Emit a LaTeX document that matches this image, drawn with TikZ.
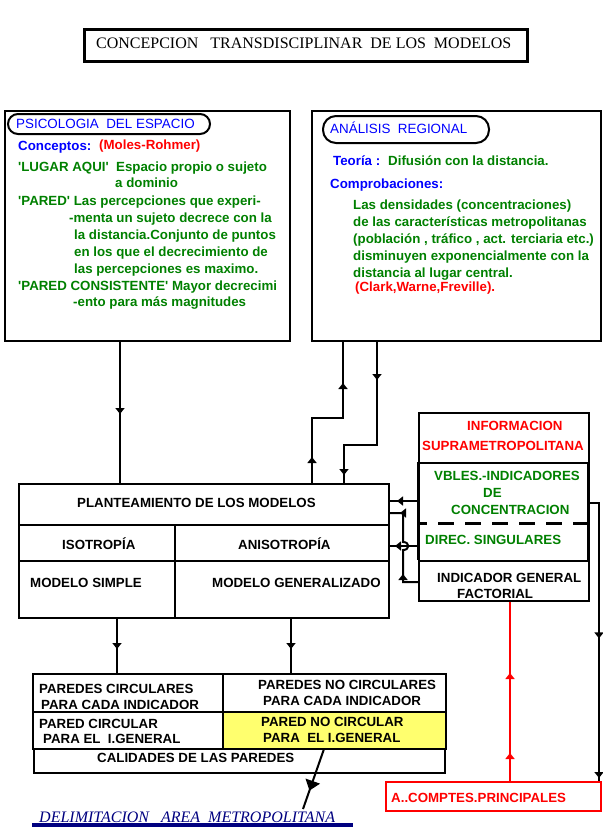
\documentclass[tikz,border=0pt]{standalone}
\usepackage{fontspec}
\setmainfont{Liberation Serif}
\setsansfont{Liberation Sans}
\usetikzlibrary{arrows.meta,decorations.markings}
\definecolor{tgreen}{RGB}{0,128,0}
\definecolor{tblue}{RGB}{0,0,255}
\definecolor{tred}{RGB}{255,0,0}
\definecolor{tnavy}{RGB}{0,0,128}
\definecolor{tyellow}{RGB}{255,255,110}
\newcommand\bodyfont{\fontsize{13.3}{15}\selectfont\sffamily\bfseries}
\newcommand\hdrfont{\fontsize{13.4}{15}\selectfont\sffamily}
\newcommand\q{\textquotesingle}
\tikzset{
  box/.style={draw, line width=2pt, anchor=north west, inner sep=0pt},
  txt/.style={anchor=base west, inner sep=0pt, font=\bodyfont},
  conn/.style={line width=2pt},
  marr/.style={postaction={decorate, decoration={markings, mark=at position #1 with {\arrow{Triangle[width=9pt,length=6pt]}}}}},
  bigarr/.style={postaction={decorate, decoration={markings, mark=at position #1 with {\arrow{Triangle[width=15pt,length=10pt]}}}}},
}
\begin{document}
\begin{tikzpicture}[x=1pt,y=-1pt]
\useasboundingbox (0,0) rectangle (603,831);
% title
\node[box, line width=3pt, minimum width=443pt, minimum height=32pt] (title) at (83,28) {};
\node[anchor=base west, inner sep=0pt, font=\fontsize{16}{18}\selectfont] (titletxt) at (96,48) {CONCEPCION\ \ \ TRANSDISCIPLINAR\ \ DE LOS\ \ MODELOS};
% top boxes
\node[box, minimum width=285pt, minimum height=230pt] (psi) at (4,110) {};
\node[box, minimum width=289pt, minimum height=230pt] (reg) at (311,110) {};
\node[box, rounded corners=10pt, minimum width=202pt, minimum height=20pt] (psihdr) at (7,113) {};
\node[box, rounded corners=13pt, minimum width=166pt, minimum height=27pt] (reghdr) at (322,115) {};
\node[txt, font=\hdrfont, text=tblue] (psihdrt) at (16,128) {PSICOLOGIA\ \ DEL ESPACIO};
\node[txt, font=\hdrfont, text=tblue] (reghdrt) at (330,133) {ANÁLISIS\ \ REGIONAL};
% left texts
\node[txt, text=tblue] (l0) at (18,150) {Conceptos:};
\node[txt, text=tred] (l0b) at (99,149) {(Moles-Rohmer)};
\begin{scope}[every node/.style={txt, text=tgreen}]
\node (l1) at (18,171.5) {\q LUGAR AQUI\q\ \ Espacio propio o sujeto};
\node (l2) at (115,187.5) {a dominio};
\node (l3) at (18,205) {\q PARED\q\ Las percepciones que experi-};
\node (l4) at (69,222) {-menta un sujeto decrece con la};
\node (l5) at (74,239) {la distancia.Conjunto de puntos};
\node (l6) at (74,256) {en los que el decrecimiento de};
\node (l7) at (74,273) {las percepciones es maximo.};
\node (l8) at (18,290) {\q PARED CONSISTENTE\q\ Mayor decrecimi};
\node (l9) at (73,306.5) {-ento para más magnitudes};
\end{scope}
% right texts
\node[txt, text=tblue] (r0) at (333,165) {Teoría :};
\node[txt, text=tgreen] (r0b) at (388,165) {Difusión con la distancia.};
\node[txt, text=tblue] (r1) at (330,188) {Comprobaciones:};
\begin{scope}[every node/.style={txt, text=tgreen}]
\node (r2) at (353,209) {Las densidades (concentraciones)};
\node (r3) at (353,226) {de las características metropolitanas};
\node (r4) at (353,243) {(población , tráfico , act. terciaria etc.)};
\node (r5) at (353,260) {disminuyen exponencialmente con la};
\node (r6) at (353,277) {distancia al lugar central.};
\end{scope}
\node[txt, text=tred] (r7) at (355,291) {(Clark,Warne,Freville).};
% planteamiento
\node[box, minimum width=370pt, minimum height=41pt] (plantTop) at (18,483) {};
\node[box, minimum width=156pt, minimum height=36pt] (iso) at (18,524) {};
\node[box, minimum width=214pt, minimum height=36pt] (aniso) at (174,524) {};
\node[box, minimum width=156pt, minimum height=57pt] (simple) at (18,560) {};
\node[box, minimum width=214pt, minimum height=57pt] (gen) at (174,560) {};
\node[txt] (t1) at (77,507) {PLANTEAMIENTO DE LOS MODELOS};
\node[txt] (t2) at (62,549) {ISOTROPÍA};
\node[txt] (t3) at (238,549) {ANISOTROPÍA};
\node[txt] (t4) at (30,587) {MODELO SIMPLE};
\node[txt] (t5) at (212,587) {MODELO GENERALIZADO};
% info box
\node[box, minimum width=170pt, minimum height=50pt] (info) at (418,412) {};
\node[anchor=north west, inner sep=0pt, minimum width=170pt, minimum height=61pt] (vbles) at (418,462) {};
\node[anchor=north west, inner sep=0pt, minimum width=170pt, minimum height=37pt] (direc) at (418,523) {};
\node[box, minimum width=170pt, minimum height=40pt] (indic) at (418,560) {};
\draw[line width=3pt] (vbles.north west) -- (direc.south west);
\draw[line width=3pt] (vbles.north east) -- (direc.south east);
\draw[line width=3pt, dash pattern=on 16pt off 11pt, dash phase=7pt] (vbles.south west) -- (vbles.south east);
\node[txt, text=tred] (i1) at (467,430) {INFORMACION};
\node[txt, text=tred] (i2) at (422,450) {SUPRAMETROPOLITANA};
\node[txt, text=tgreen] (i3) at (434,480) {VBLES.-INDICADORES};
\node[txt, text=tgreen] (i4) at (483,497) {DE};
\node[txt, text=tgreen] (i5) at (451,514) {CONCENTRACION};
\node[txt, text=tgreen] (i6) at (425,544) {DIREC. SINGULARES};
\node[txt] (i7) at (437,582) {INDICADOR GENERAL};
\node[txt] (i8) at (457,598) {FACTORIAL};
% comptes
\node[box, draw=tred, minimum width=215pt, minimum height=29pt] (comptes) at (385,781) {};
\node[txt, text=tred] (ct) at (391,802) {A..COMPTES.PRINCIPALES};
% bottom table
\node[box, minimum width=190pt, minimum height=38pt] (pc) at (32,673) {};
\node[box, minimum width=223pt, minimum height=38pt] (pnc) at (222,673) {};
\node[box, minimum width=190pt, minimum height=37pt] (pci) at (32,711) {};
\node[box, fill=tyellow, minimum width=223pt, minimum height=37pt] (pnci) at (222,711) {};
\node[box, minimum width=411pt, minimum height=24pt] (cal) at (33,748) {};
\node[txt] (b1) at (39,693) {PAREDES CIRCULARES};
\node[txt] (b2) at (41,709) {PARA CADA INDICADOR};
\node[txt] (b3) at (258,689) {PAREDES NO CIRCULARES};
\node[txt] (b4) at (263,705) {PARA CADA INDICADOR};
\node[txt] (b5) at (39,728) {PARED CIRCULAR};
\node[txt] (b6) at (43,743) {PARA EL\ \ I.GENERAL};
\node[txt] (b7) at (261,726) {PARED NO CIRCULAR};
\node[txt] (b8) at (263,742) {PARA\ \ EL I.GENERAL};
\node[txt] (b9) at (97,762) {CALIDADES DE LAS PAREDES};
% delimitation
\node[anchor=base west, inner sep=0pt, text=tnavy, font=\fontsize{16}{18}\selectfont\itshape] (delim) at (39,822) {DELIMITACION\ \ \ AREA\ \ METROPOLITANA};
\coordinate (ul1) at (32,825);
\coordinate (ul2) at (353,825);
\draw[tnavy, line width=4pt] (ul1) -- (ul2);
% connectors
\coordinate (xa) at (120,0);
\draw[conn, marr=72pt] (psi.south -| xa) -- (plantTop.north -| xa);
\coordinate (j1) at (312,418);
\coordinate (j2) at (343,418);
\draw[conn, marr=26pt, marr=131pt] (plantTop.north -| j1) -- (j1) -- (j2) -- (reg.south -| j2);
\coordinate (k1) at (377,445);
\coordinate (k2) at (344,445);
\draw[conn, marr=38pt, marr=166pt] (reg.south -| k1) -- (k1) -- (k2) -- (plantTop.north -| k2);
\coordinate (ya) at (0,501);
\draw[conn, marr=21pt] (vbles.west |- ya) -- (plantTop.east |- ya);
\coordinate (yb) at (0,546);
\draw[conn, marr=23pt] (direc.west |- yb) -- (aniso.east |- yb);
\coordinate (h0) at (403,582);
\coordinate (h1) at (403,550);
\coordinate (h2) at (403,542);
\coordinate (h3) at (403,513);
\draw[conn, marr=23pt, marr=-10pt] (indic.west |- h0) -- (h0) -- (h1) .. controls (410,550) and (410,542) .. (h2) -- (h3) -- (plantTop.east |- h3);
\coordinate (v1) at (599,503);
\draw[conn, marr=146pt, marr=-3pt] (vbles.east |- v1) -- (v1) -- (comptes.north -| v1);
\coordinate (rx) at (510,0);
\draw[conn, tred, marr=28pt, marr=108pt] (comptes.north -| rx) -- (indic.south -| rx);
\coordinate (d1) at (117,0);
\coordinate (d2) at (291,0);
\draw[conn, marr=30pt] (simple.south -| d1) -- (pc.north -| d1);
\draw[conn, marr=30pt] (gen.south -| d2) -- (pnc.north -| d2);
\coordinate (e1) at (324,749);
\coordinate (e2) at (303,809);
\draw[conn, bigarr=44pt] (e1) -- (e2);
\end{tikzpicture}
\end{document}
